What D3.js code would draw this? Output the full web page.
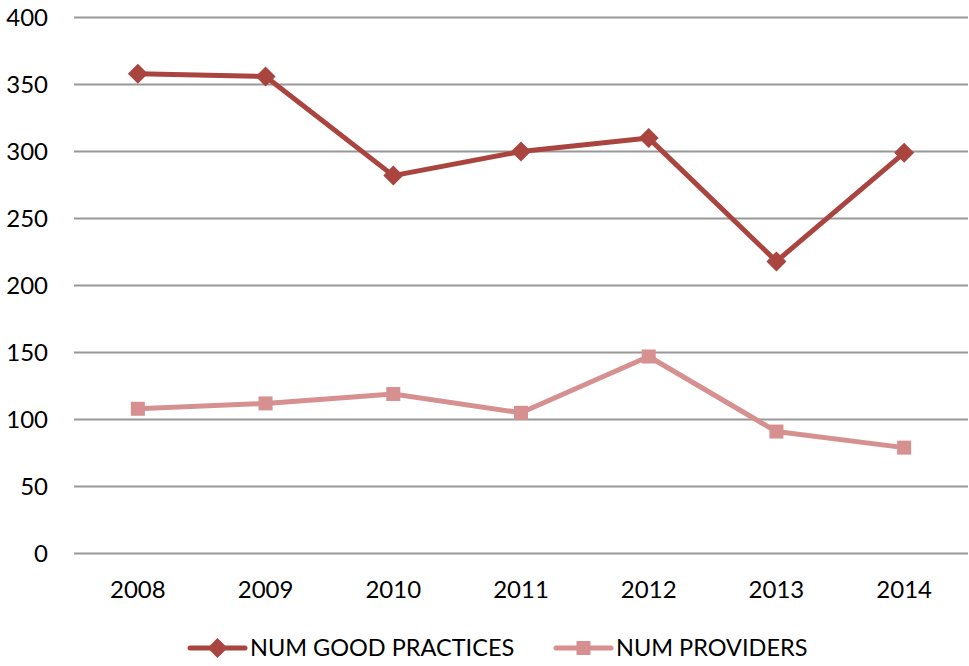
<!DOCTYPE html>
<html>
<head>
<meta charset="utf-8">
<script src="https://cdn.jsdelivr.net/npm/d3@7"></script>
<style>
  html, body { margin: 0; padding: 0; background: #fff; }
  svg text { font-family: Lato, "Open Sans", sans-serif; fill: #000; }
</style>
</head>
<body>
<svg id="chart" width="969" height="666"></svg>
<script>
const years = ["2008", "2009", "2010", "2011", "2012", "2013", "2014"];
const goodPractices = [358, 356, 282, 300, 310, 218, 299];
const providers = [108, 112, 119, 105, 147, 91, 79];
const yTicks = [0, 50, 100, 150, 200, 250, 300, 350, 400];
const seriesNames = ["NUM GOOD PRACTICES", "NUM PROVIDERS"];
const seriesColors = ["#A9443F", "#D69090"];

const svg = d3.select("#chart");
const margin = { left: 74, right: 1, top: 17.5, bottom: 112.5 };
const W = 969, H = 666;

const x = d3.scaleBand().domain(years).range([margin.left, W - margin.right]);
const y = d3.scaleLinear().domain([0, 400]).range([H - margin.bottom, margin.top]);

// horizontal gridlines
svg.append("g").selectAll("line").data(yTicks).join("line")
  .attr("x1", margin.left).attr("x2", W - margin.right)
  .attr("y1", d => y(d)).attr("y2", d => y(d))
  .attr("stroke", "#989898").attr("stroke-width", 2);

// y axis labels
const yAxis = d3.axisLeft(y).tickValues(yTicks).tickSize(0).tickPadding(26);
const gy = svg.append("g").attr("transform", `translate(${margin.left},0)`).call(yAxis);
gy.select(".domain").remove();
gy.selectAll("text").style("font-size", "24px").attr("dy", "0.35em");

// x axis labels
const xAxis = d3.axisBottom(x).tickSize(0).tickPadding(27);
const gx = svg.append("g").attr("transform", `translate(0,${y(0)})`).call(xAxis);
gx.select(".domain").remove();
gx.selectAll("text").style("font-size", "24px");

const cx = d => x(d) + x.bandwidth() / 2;
const line = d3.line().x(d => cx(d.year)).y(d => y(d.value));

const data = [goodPractices, providers].map(vals =>
  years.map((yr, i) => ({ year: yr, value: vals[i] })));

function marker(g, type, color) {
  if (type === 0) {
    g.append("path").attr("d", "M0,-10L10,0L0,10L-10,0Z").attr("fill", color);
  } else {
    g.append("rect").attr("x", -7).attr("y", -7).attr("width", 14).attr("height", 14).attr("fill", color);
  }
}

data.forEach((series, si) => {
  svg.append("path").datum(series)
    .attr("d", line).attr("fill", "none")
    .attr("stroke", seriesColors[si]).attr("stroke-width", 5)
    .attr("stroke-linejoin", "round").attr("stroke-linecap", "round");
  series.forEach(d => {
    const g = svg.append("g").attr("transform", `translate(${cx(d.year)},${y(d.value)})`);
    marker(g, si, seriesColors[si]);
  });
});

// legend
const legendItems = [{ x: 190 }, { x: 556 }];
legendItems.forEach((item, i) => {
  const g = svg.append("g").attr("transform", `translate(${item.x},648)`);
  g.append("line").attr("x1", 0).attr("x2", 55).attr("y1", 0).attr("y2", 0)
    .attr("stroke", seriesColors[i]).attr("stroke-width", 5).attr("stroke-linecap", "round");
  const m = g.append("g").attr("transform", "translate(27.5,0)");
  marker(m, i, seriesColors[i]);
  g.append("text").attr("x", 60).attr("y", 0).attr("dy", "0.35em")
    .style("font-size", "23.5px").text(seriesNames[i]);
});
</script>
</body>
</html>
